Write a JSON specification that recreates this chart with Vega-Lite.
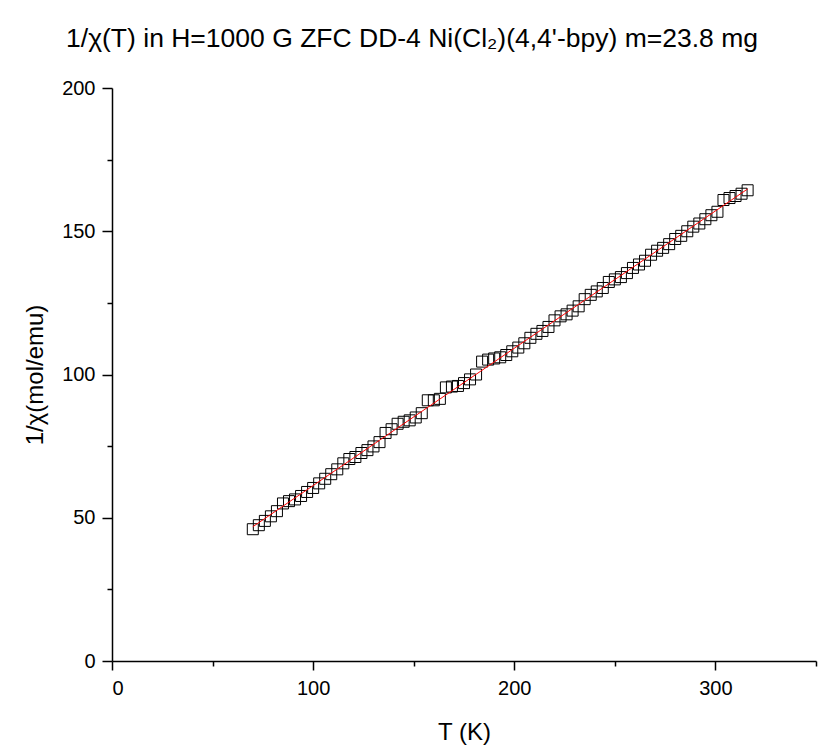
{
  "$schema": "https://vega.github.io/schema/vega-lite/v6.json",
  "width": 704,
  "height": 573,
  "autosize": {"type": "none"},
  "padding": {"left": 112, "top": 88, "right": 7, "bottom": 87},
  "background": "white",
  "title": {
    "text": "1/χ(T) in H=1000 G ZFC DD-4 Ni(Cl₂)(4,4'-bpy) m=23.8 mg",
    "font": "Liberation Sans",
    "fontSize": 26.5,
    "fontWeight": "normal",
    "color": "black",
    "anchor": "middle",
    "frame": "group",
    "dx": -52,
    "offset": 26
  },
  "config": {
    "view": {"stroke": null},
    "axis": {
      "grid": false,
      "domainColor": "black",
      "domainWidth": 1.5,
      "tickColor": "black",
      "tickWidth": 1.5,
      "labelColor": "black",
      "labelFont": "Liberation Sans",
      "labelFontSize": 20,
      "titleFont": "Liberation Sans",
      "titleFontSize": 24,
      "titleFontWeight": "normal",
      "titleColor": "black"
    }
  },
  "data": {
    "values": [
      {"T": 70, "chi": 46.0}, {"T": 73, "chi": 47.4}, {"T": 76, "chi": 48.9}, {"T": 79, "chi": 50.5},
      {"T": 82, "chi": 52.3}, {"T": 85, "chi": 55.0}, {"T": 88, "chi": 55.8}, {"T": 91, "chi": 56.4},
      {"T": 94, "chi": 57.6}, {"T": 97, "chi": 59.0}, {"T": 100, "chi": 60.4}, {"T": 103, "chi": 62.0},
      {"T": 106, "chi": 63.6}, {"T": 109, "chi": 65.2}, {"T": 112, "chi": 66.9}, {"T": 115, "chi": 69.0},
      {"T": 118, "chi": 70.5}, {"T": 121, "chi": 71.2}, {"T": 124, "chi": 72.6}, {"T": 127, "chi": 73.6},
      {"T": 130, "chi": 74.9}, {"T": 133, "chi": 76.4}, {"T": 136, "chi": 79.6}, {"T": 139, "chi": 80.9},
      {"T": 142, "chi": 82.8}, {"T": 145, "chi": 83.5}, {"T": 148, "chi": 84.0}, {"T": 151, "chi": 85.0},
      {"T": 154, "chi": 86.5}, {"T": 157, "chi": 91.0}, {"T": 160, "chi": 91.0}, {"T": 163, "chi": 91.5},
      {"T": 166, "chi": 95.5}, {"T": 169, "chi": 95.8}, {"T": 172, "chi": 96.0}, {"T": 175, "chi": 97.0},
      {"T": 178, "chi": 98.3}, {"T": 181, "chi": 100.0}, {"T": 184, "chi": 104.5}, {"T": 187, "chi": 105.2},
      {"T": 190, "chi": 105.6}, {"T": 193, "chi": 106.0}, {"T": 196, "chi": 106.8}, {"T": 199, "chi": 108.1},
      {"T": 202, "chi": 109.4}, {"T": 205, "chi": 110.9}, {"T": 208, "chi": 112.8}, {"T": 211, "chi": 114.2},
      {"T": 214, "chi": 115.2}, {"T": 217, "chi": 116.6}, {"T": 220, "chi": 118.9}, {"T": 223, "chi": 120.3},
      {"T": 226, "chi": 121.0}, {"T": 229, "chi": 122.3}, {"T": 232, "chi": 123.8}, {"T": 235, "chi": 126.3},
      {"T": 238, "chi": 127.8}, {"T": 241, "chi": 129.0}, {"T": 244, "chi": 130.2}, {"T": 247, "chi": 132.3},
      {"T": 250, "chi": 133.2}, {"T": 253, "chi": 134.0}, {"T": 256, "chi": 135.4}, {"T": 259, "chi": 137.2},
      {"T": 262, "chi": 138.4}, {"T": 265, "chi": 139.7}, {"T": 268, "chi": 141.8}, {"T": 271, "chi": 143.2},
      {"T": 274, "chi": 144.2}, {"T": 277, "chi": 145.5}, {"T": 280, "chi": 147.3}, {"T": 283, "chi": 148.4},
      {"T": 286, "chi": 150.0}, {"T": 289, "chi": 151.6}, {"T": 292, "chi": 152.7}, {"T": 295, "chi": 154.2},
      {"T": 298, "chi": 155.6}, {"T": 301, "chi": 156.8}, {"T": 304, "chi": 160.9}, {"T": 307, "chi": 161.6},
      {"T": 310, "chi": 162.3}, {"T": 313, "chi": 163.1}, {"T": 316, "chi": 164.3}
    ]
  },
  "layer": [
    {
      "mark": {"type": "point", "shape": "square", "size": 121, "filled": false, "stroke": "black", "strokeWidth": 1, "opacity": 1},
      "encoding": {
        "x": {"field": "T", "type": "quantitative", "scale": {"domain": [0, 350], "nice": false, "zero": false},
          "axis": {"values": [0, 100, 200, 300], "tickSize": 9, "labelPadding": 8, "title": "T (K)", "titlePadding": 22, "orient": "bottom"}},
        "y": {"field": "chi", "type": "quantitative", "scale": {"domain": [0, 200], "nice": false, "zero": false},
          "axis": {"values": [0, 50, 100, 150, 200], "tickSize": 10, "labelPadding": 7, "title": "1/χ(mol/emu)", "titlePadding": 14, "orient": "left"}}
      }
    },
    {
      "transform": [{"regression": "chi", "on": "T"}],
      "mark": {"type": "line", "color": "#ff0000", "strokeWidth": 1},
      "encoding": {
        "x": {"field": "T", "type": "quantitative", "axis": null},
        "y": {"field": "chi", "type": "quantitative", "axis": null}
      }
    },
    {
      "mark": {"type": "point", "opacity": 0},
      "encoding": {
        "x": {"field": "T", "type": "quantitative",
          "axis": {"values": [50, 150, 250, 350], "tickSize": 5, "labels": false, "domain": false, "title": null, "orient": "bottom"}},
        "y": {"field": "chi", "type": "quantitative",
          "axis": {"values": [25, 75, 125, 175], "tickSize": 5, "labels": false, "domain": false, "title": null, "orient": "left"}}
      }
    }
  ],
  "resolve": {"axis": {"x": "independent", "y": "independent"}}
}
